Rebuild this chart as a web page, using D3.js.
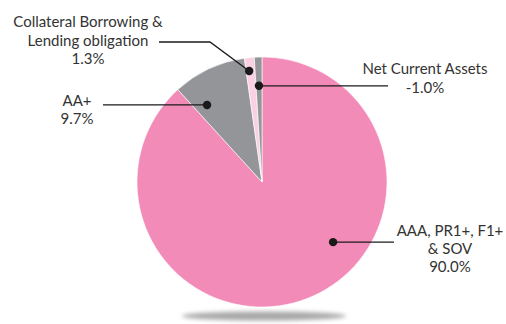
<!DOCTYPE html>
<html>
<head>
<meta charset="utf-8">
<script src="https://cdn.jsdelivr.net/npm/d3@7"></script>
<style>
  html, body { margin: 0; padding: 0; background: #fff; }
  svg text { font-family: Lato, "Open Sans", sans-serif; font-size: 15px; fill: #333; }
</style>
</head>
<body>
<svg id="chart" width="506" height="324"></svg>
<script>
// Portfolio composition by rating
const categories = ["AAA, PR1+, F1+ & SOV", "AA+", "Collateral Borrowing & Lending obligation", "Net Current Assets"];
const values = [90.0, 9.7, 1.3, -1.0];
const colors = ["#F28BB8", "#939598", "#F9D1E3", "#939598"];
const labelLines = [
  ["AAA, PR1+, F1+", "& SOV", "90.0%"],
  ["AA+", "9.7%"],
  ["Collateral Borrowing &", "Lending obligation", "1.3%"],
  ["Net Current Assets", "-1.0%"]
];

const svg = d3.select("#chart");
const cx = 262, cy = 182, R = 125;

// soft shadow under the pie
const defs = svg.append("defs");
defs.append("filter").attr("id", "blur")
  .attr("x", "-20%").attr("y", "-200%").attr("width", "140%").attr("height", "500%")
  .append("feGaussianBlur").attr("stdDeviation", 2.2);
svg.append("ellipse")
  .attr("cx", 264).attr("cy", 316).attr("rx", 82).attr("ry", 4.5)
  .attr("fill", "#a8a8a8").attr("filter", "url(#blur)");

const data = categories.map((c, i) => ({ name: c, value: values[i], color: colors[i], lines: labelLines[i] }));

const pie = d3.pie().sort(null).value(d => Math.abs(d.value));
const arc = d3.arc().innerRadius(0).outerRadius(R);
const arcs = pie(data);

const g = svg.append("g").attr("transform", `translate(${cx},${cy})`);
g.selectAll("path").data(arcs).join("path")
  .attr("d", arc)
  .attr("fill", d => d.data.color)
  .attr("stroke", "#fff").attr("stroke-width", 0.6);

// leader anchor inside each slice: fraction across its angle, fraction of radius
const anchorAt = [[0.41, 0.745], [0.2, 0.757], [0.33, 0.894], [0.49, 0.77]];
const anchors = arcs.map((a, i) => {
  const ang = a.startAngle + (a.endAngle - a.startAngle) * anchorAt[i][0];
  const r = R * anchorAt[i][1];
  return [cx + Math.sin(ang) * r, cy - Math.cos(ang) * r];
});

// leader paths: from dot out to the label side
const leaders = [
  p => [[p[0], p[1]], [394, p[1]]],
  p => [[p[0], p[1]], [103, p[1]]],
  p => [[p[0], p[1]], [210, 42], [159, 42]],
  p => [[p[0], p[1]], [388, p[1]]]
];
const line = d3.line();
svg.selectAll("path.leader").data(anchors).join("path")
  .attr("class", "leader")
  .attr("d", (p, i) => line(leaders[i](p)))
  .attr("fill", "none").attr("stroke", "#1a1a1a").attr("stroke-width", 1.3);
svg.selectAll("circle.dot").data(anchors).join("circle")
  .attr("class", "dot")
  .attr("cx", p => p[0]).attr("cy", p => p[1]).attr("r", 4.2)
  .attr("fill", "#1a1a1a");

// label blocks: centre x and first baseline
const labelPos = [[450, 236], [77, 106], [88, 27], [425, 74]];
const lineGap = [18, 17.5, 18.5, 19];
data.forEach((d, i) => {
  const t = svg.append("text").attr("text-anchor", "middle");
  d.lines.forEach((s, k) => {
    t.append("tspan").attr("x", labelPos[i][0]).attr("y", labelPos[i][1] + k * lineGap[i]).text(s);
  });
});
</script>
</body>
</html>
